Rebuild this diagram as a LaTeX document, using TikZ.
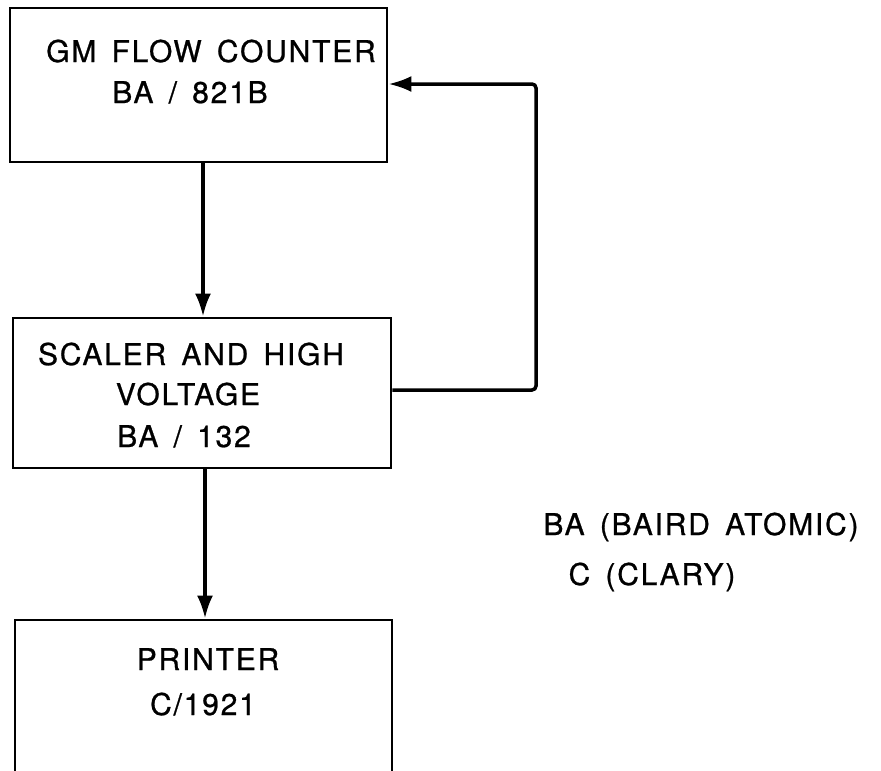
\documentclass[tikz,border=0pt]{standalone}
\usepackage{fontspec}
\newfontfamily\lett[LetterSpace=6,WordSpace=1.5,FakeBold=0.8]{TeX Gyre Heros}
\usetikzlibrary{arrows.meta}
\tikzset{
  box/.style={draw=black, line width=2.8pt, rectangle, inner sep=0pt},
  lbl/.style={anchor=base, inner sep=0pt, font=\lett\fontsize{30}{30}\selectfont},
  arr/.style={line width=3.5pt, -{Latex[length=23pt,width=16pt]}},
  fb/.style={line width=3.5pt, rounded corners=4pt, -{Latex[length=23pt,width=16pt]}}
}
\begin{document}
\begin{tikzpicture}[x=1pt,y=-1pt]
\clip (0,0) rectangle (881,771);
\fill[white] (0,0) rectangle (881,771);
% boxes
\node[box, minimum width=377pt, minimum height=154pt] (box1) at (198.5,85) {};
\node[box, minimum width=378pt, minimum height=150pt] (box2) at (202,393) {};
\node[box, minimum width=377pt, minimum height=240pt] (box3) at (203.5,740) {};
% texts
\node[lbl] (t1) at (211,62) {GM FLOW COUNTER};
\node[lbl] (t2) at (190,103) {BA / 821B};
\node[lbl] (t3) at (191,365) {SCALER AND HIGH};
\node[lbl] (t4) at (188,405) {VOLTAGE};
\node[lbl] (t5) at (184,447) {BA / 132};
\node[lbl] (t6) at (208,670) {PRINTER};
\node[lbl] (t7) at (203,715) {C/1921};
\node[lbl] (t8) at (701,535) {BA (BAIRD ATOMIC)};
\node[lbl] (t9) at (652,585) {C (CLARY)};
% connector anchors
\coordinate (c1) at (203,0);
\coordinate (c2) at (205,0);
\coordinate (cr) at (536,0);
\coordinate (ry) at (0,390);
\coordinate (ty) at (0,84);
\draw[arr] (box1.south -| c1) -- (box2.north -| c1);
\draw[arr] (box2.south -| c2) -- (box3.north -| c2);
\draw[fb] (box2.east |- ry) -- (cr |- ry) -- (cr |- ty) -- (box1.east |- ty);
\end{tikzpicture}
\end{document}
